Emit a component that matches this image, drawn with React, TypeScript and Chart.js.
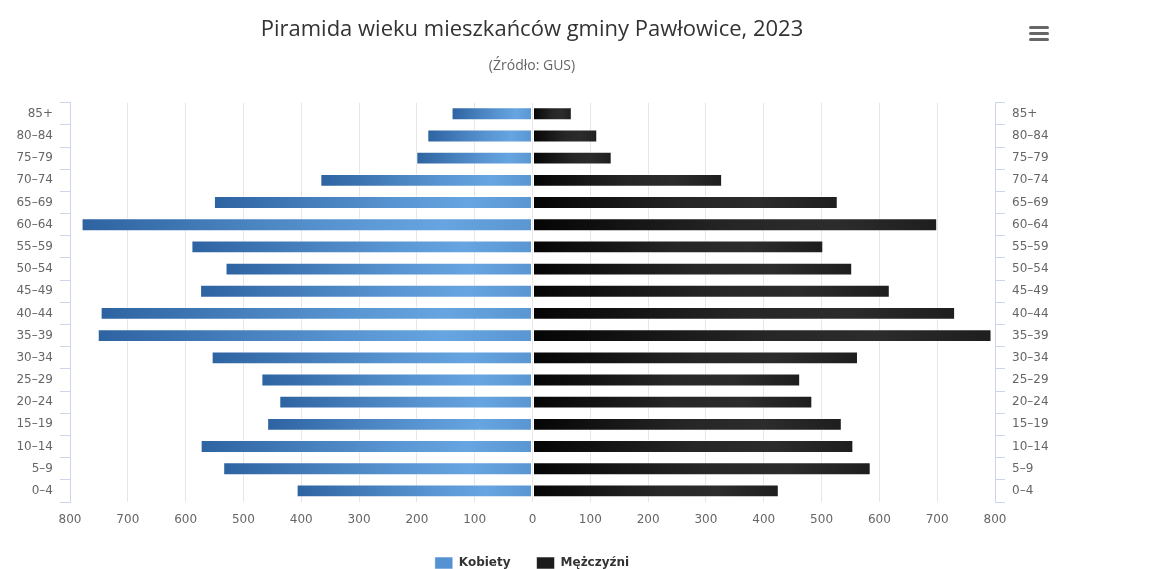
import React, { useEffect, useRef } from "react";
import { Chart, registerables } from "chart.js";

Chart.register(...registerables);

const ageGroups = [
  "85+", "80–84", "75–79", "70–74", "65–69", "60–64", "55–59", "50–54", "45–49",
  "40–44", "35–39", "30–34", "25–29", "20–24", "15–19", "10–14", "5–9", "0–4",
];
const women = [140, 182, 201, 367, 551, 780, 590, 531, 575, 747, 752, 555, 469, 438, 459, 574, 535, 408];
const men = [68, 112, 137, 328, 528, 700, 503, 553, 618, 731, 794, 563, 463, 484, 535, 555, 585, 426];

const axisMin = -800;
const axisMax = 800;
const axisStep = 100;

const TITLE = "Piramida wieku mieszkańców gminy Pawłowice, 2023";
const SUBTITLE = "(Źródło: GUS)";
const WOMEN_LABEL = "Kobiety";
const MEN_LABEL = "Mężczyźni";

const womenStops: [number, string][] = [
  [0, "#5a96d1"],
  [0.2, "#66a5e1"],
  [0.45, "#5793d0"],
  [1, "#2d63a0"],
];
const menStops: [number, string][] = [
  [0, "#050505"],
  [0.5, "#262626"],
  [0.75, "#2c2c2c"],
  [1, "#1e1e1e"],
];
const legendColors = ["#5592d2", "#1c1c1c"];

const makeFill = (stops: [number, string][], solid: string) => (ctx: any) => {
  if (ctx.type !== "data") return solid;
  const chart = ctx.chart;
  const xs = chart.scales && chart.scales.x;
  if (!xs || !chart.chartArea) return solid;
  const v = ctx.raw as number;
  const p0 = xs.getPixelForValue(0);
  const p1 = xs.getPixelForValue(v);
  if (!isFinite(p0) || !isFinite(p1) || p0 === p1) return solid;
  const g = chart.ctx.createLinearGradient(p0, 0, p1, 0);
  stops.forEach(([o, c]) => g.addColorStop(o, c));
  return g;
};

const tickFont = { family: "'DejaVu Sans', sans-serif", size: 12 };

export default function App() {
  const ref = useRef<HTMLCanvasElement | null>(null);

  useEffect(() => {
    if (!ref.current) return;
    const chart = new Chart(ref.current, {
      type: "bar",
      data: {
        labels: ageGroups,
        datasets: [
          {
            label: WOMEN_LABEL,
            data: women.map((v) => -v),
            backgroundColor: makeFill(womenStops, legendColors[0]),
            borderColor: "rgba(255,255,255,0.55)",
            borderWidth: 1,
            borderSkipped: false,
            barPercentage: 0.58,
            categoryPercentage: 1,
          },
          {
            label: MEN_LABEL,
            data: men,
            backgroundColor: makeFill(menStops, legendColors[1]),
            borderColor: "rgba(255,255,255,0.55)",
            borderWidth: 1,
            borderSkipped: false,
            barPercentage: 0.58,
            categoryPercentage: 1,
          },
        ],
      },
      options: {
        indexAxis: "y",
        responsive: false,
        animation: false,
        layout: { padding: 0 },
        scales: {
          x: {
            type: "linear",
            stacked: true,
            min: axisMin,
            max: axisMax,
            ticks: {
              stepSize: axisStep,
              color: "#666666",
              font: tickFont,
              padding: 11,
              maxRotation: 0,
              autoSkip: false,
              callback: (v: any) => String(Math.abs(Number(v))),
            },
            grid: {
              drawTicks: false,
              color: (c: any) =>
                c.tick && Math.abs(c.tick.value) === axisMax ? "rgba(0,0,0,0)" : "#e6e6e6",
            },
            border: { display: false },
            afterFit: (s: any) => {
              s.height = 29;
            },
          },
          y: {
            type: "category",
            position: "left",
            stacked: true,
            offset: true,
            ticks: { color: "#666666", font: tickFont, padding: 7, autoSkip: false },
            grid: { drawOnChartArea: false, offset: true, tickLength: 10, color: "#ccd6eb" },
            border: { color: "#ccd6eb" },
            afterFit: (s: any) => {
              s.width = 70;
            },
          },
          y2: {
            type: "category",
            position: "right",
            labels: ageGroups,
            offset: true,
            ticks: { color: "#666666", font: tickFont, padding: 7, autoSkip: false },
            grid: { drawOnChartArea: false, offset: true, tickLength: 10, color: "#ccd6eb" },
            border: { color: "#ccd6eb" },
            afterFit: (s: any) => {
              s.width = 69;
            },
          },
        },
        plugins: {
          title: {
            display: true,
            text: TITLE,
            color: "#333333",
            font: { family: "'Open Sans', sans-serif", size: 22, weight: "normal" },
            padding: { top: 17, bottom: 0 },
          },
          subtitle: {
            display: true,
            text: SUBTITLE,
            color: "#666666",
            font: { family: "'Open Sans', sans-serif", size: 14, weight: "normal" },
            padding: { top: 14, bottom: 28.5 },
          },
          legend: {
            position: "bottom",
            labels: {
              boxWidth: 18,
              boxHeight: 12,
              padding: 26,
              color: "#333333",
              font: { family: "'DejaVu Sans', sans-serif", size: 12, weight: "bold" },
              generateLabels: (c: any) =>
                (Chart.defaults.plugins.legend.labels.generateLabels as any)(c).map(
                  (l: any, i: number) => ({ ...l, fillStyle: legendColors[i] })
                ),
            },
          },
          tooltip: {
            callbacks: {
              label: (c: any) => `${c.dataset.label}: ${Math.abs(c.raw)}`,
            },
          },
        },
      },
    });
    return () => chart.destroy();
  }, []);

  const bar = (top: number) => (
    <div
      style={{
        position: "absolute",
        left: 1029,
        top,
        width: 20,
        height: 3,
        borderRadius: 1.5,
        background: "#666666",
      }}
    />
  );

  return (
    <div
      style={{
        position: "absolute",
        left: 0,
        top: 0,
        width: 1157,
        height: 569,
        overflow: "hidden",
        background: "#ffffff",
      }}
    >
      <canvas ref={ref} width={1064} height={579} style={{ display: "block" }} />
      {bar(26)}
      {bar(32)}
      {bar(38)}
    </div>
  );
}
